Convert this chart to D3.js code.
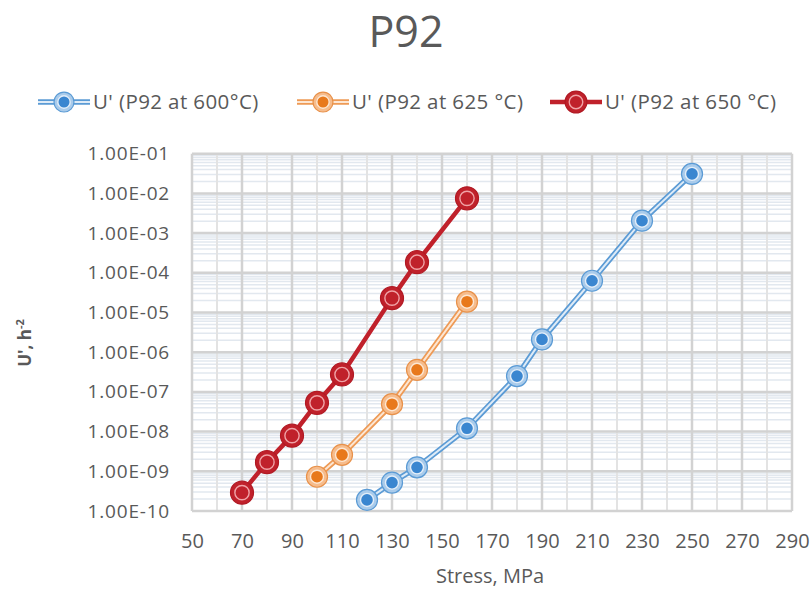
<!DOCTYPE html>
<html>
<head>
<meta charset="utf-8">
<script src="https://cdn.jsdelivr.net/npm/d3@7"></script>
<style>
  html, body { margin: 0; padding: 0; background: #fff; }
  svg { display: block; font-family: "Open Sans", "Noto Sans", sans-serif; }
</style>
</head>
<body>
<svg id="chart" width="811" height="590"></svg>
<script>
// ---- data ----
const stress600 = [120, 130, 140, 160, 180, 190, 210, 230, 250];
const u600 = [1.9e-10, 5.2e-10, 1.26e-9, 1.21e-8, 2.5e-7, 2.1e-6, 6.3e-5, 2.05e-3, 3.1e-2];
const stress625 = [100, 110, 130, 140, 160];
const u625 = [7.3e-10, 2.6e-9, 4.9e-8, 3.6e-7, 1.87e-5];
const stress650 = [70, 80, 90, 100, 110, 130, 140, 160];
const u650 = [2.9e-10, 1.7e-9, 7.9e-9, 5.3e-8, 2.75e-7, 2.3e-5, 1.85e-4, 7.5e-3];
const seriesNames = ["U' (P92 at 600°C)", "U' (P92 at 625 °C)", "U' (P92 at 650 °C)"];
const xTicks = [50, 70, 90, 110, 130, 150, 170, 190, 210, 230, 250, 270, 290];
const yTicks = [1e-10, 1e-9, 1e-8, 1e-7, 1e-6, 1e-5, 1e-4, 1e-3, 1e-2, 1e-1];
const yTickLabels = ["1.00E-10", "1.00E-09", "1.00E-08", "1.00E-07", "1.00E-06", "1.00E-05", "1.00E-04", "1.00E-03", "1.00E-02", "1.00E-01"];

const svg = d3.select("#chart");
const L = 192, R = 792, T = 153.7, B = 511;
const x = d3.scaleLinear().domain([50, 290]).range([L, R]);
const y = d3.scaleLog().domain([1e-10, 1e-1]).range([B, T]);

const textColor = "#595959";

// title
svg.append("text").attr("x", 406).attr("y", 47).attr("text-anchor", "middle")
  .attr("font-size", 43).attr("fill", textColor).text("P92");

// grid
const g = svg.append("g");
const minorY = [];
for (let e = -10; e < -1; e++) for (let m = 2; m <= 9; m++) minorY.push(m * Math.pow(10, e));
g.selectAll(".mh").data(minorY).enter().append("line")
  .attr("x1", L).attr("x2", R).attr("y1", d => y(d)).attr("y2", d => y(d))
  .attr("stroke", "#e2e8ef").attr("stroke-width", 1.5);
const minorX = d3.range(60, 290, 20);
g.selectAll(".mv").data(minorX).enter().append("line")
  .attr("x1", d => x(d)).attr("x2", d => x(d)).attr("y1", T).attr("y2", B)
  .attr("stroke", "#e3e3e3").attr("stroke-width", 2);
g.selectAll(".Mh").data(yTicks).enter().append("line")
  .attr("x1", L).attr("x2", R).attr("y1", d => y(d)).attr("y2", d => y(d))
  .attr("stroke", "#d2d2d2").attr("stroke-width", 2.5);
g.selectAll(".Mv").data(xTicks).enter().append("line")
  .attr("x1", d => x(d)).attr("x2", d => x(d)).attr("y1", T).attr("y2", B)
  .attr("stroke", "#d2d2d2").attr("stroke-width", 2.5);

// axes via d3
const xAxis = d3.axisBottom(x).tickValues(xTicks).tickSize(0).tickPadding(23).tickFormat(d3.format("d"));
const xg = svg.append("g").attr("transform", `translate(0,${B})`).call(xAxis);
xg.select(".domain").remove();
xg.selectAll("text").attr("font-size", 20).attr("fill", textColor).attr("font-family", "Open Sans, sans-serif");

const yAxis = d3.axisLeft(y).tickValues(yTicks).tickSize(0).tickPadding(22)
  .tickFormat((d, i) => yTickLabels[i]);
const yg = svg.append("g").attr("transform", `translate(${L},0)`).call(yAxis);
yg.select(".domain").remove();
yg.selectAll("text").attr("font-size", 19).attr("letter-spacing", 0.8).attr("fill", textColor)
  .attr("font-family", "Open Sans, sans-serif");

// axis titles
svg.append("text").attr("x", 490).attr("y", 583).attr("text-anchor", "middle")
  .attr("font-size", 20).attr("fill", textColor).text("Stress, MPa");
const yt = svg.append("text").attr("transform", "translate(31,343) rotate(-90)")
  .attr("text-anchor", "middle").attr("font-size", 17).attr("font-weight", "bold").attr("fill", textColor);
yt.append("tspan").text("U', h");
yt.append("tspan").attr("dy", -7).attr("font-size", 11).text("-2");

// series styles
const styles = [
  { xs: stress600, ys: u600, line: "#5b9bd5", lineW: 5.5, inner: "#deebf7", innerW: 2,
    outerFill: "#a9cbeb", outerStroke: "#5b9bd5", ring: "#e3eef9", dot: "#3a86d0", r: 10.5 },
  { xs: stress625, ys: u625, line: "#ee9a55", lineW: 5.5, inner: "#fde6d2", innerW: 2,
    outerFill: "#f6bc8c", outerStroke: "#e8914a", ring: "#fde7d3", dot: "#e8791c", r: 10.5 },
  { xs: stress650, ys: u650, line: "#c0212b", lineW: 4.5, inner: null, innerW: 0,
    outerFill: "#c0212b", outerStroke: "#b11a24", ring: "#f0a3a7", dot: "#c0212b", r: 11.5 }
];

const lineGen = d3.line().x(d => x(d[0])).y(d => y(d[1]));

function drawMarker(sel, s, cx, cy, scale) {
  const r = s.r * scale;
  sel.append("circle").attr("cx", cx).attr("cy", cy).attr("r", r)
    .attr("fill", s.outerFill).attr("stroke", s.outerStroke).attr("stroke-width", 1.2);
  sel.append("circle").attr("cx", cx).attr("cy", cy).attr("r", r * 0.62)
    .attr("fill", s.dot).attr("stroke", s.ring).attr("stroke-width", 1.4);
}

styles.forEach(s => {
  const pts = s.xs.map((v, i) => [v, s.ys[i]]);
  const sg = svg.append("g");
  sg.append("path").datum(pts).attr("d", lineGen).attr("fill", "none")
    .attr("stroke", s.line).attr("stroke-width", s.lineW).attr("stroke-linejoin", "round");
  if (s.inner) sg.append("path").datum(pts).attr("d", lineGen).attr("fill", "none")
    .attr("stroke", s.inner).attr("stroke-width", s.innerW);
  pts.forEach(p => drawMarker(sg, s, x(p[0]), y(p[1]), 1));
});

// legend
const legendX = [38, 297, 550];
styles.forEach((s, i) => {
  const lg = svg.append("g");
  const x0 = legendX[i], yy = 102;
  lg.append("line").attr("x1", x0).attr("x2", x0 + 52).attr("y1", yy).attr("y2", yy)
    .attr("stroke", s.line).attr("stroke-width", s.lineW);
  if (s.inner) lg.append("line").attr("x1", x0).attr("x2", x0 + 52).attr("y1", yy).attr("y2", yy)
    .attr("stroke", s.inner).attr("stroke-width", s.innerW);
  drawMarker(lg, s, x0 + 26, yy, 0.95);
  lg.append("text").attr("x", x0 + 55).attr("y", yy + 7).attr("font-size", 20.5)
    .attr("letter-spacing", 0.4).attr("fill", textColor).text(seriesNames[i]);
});
</script>
</body>
</html>
